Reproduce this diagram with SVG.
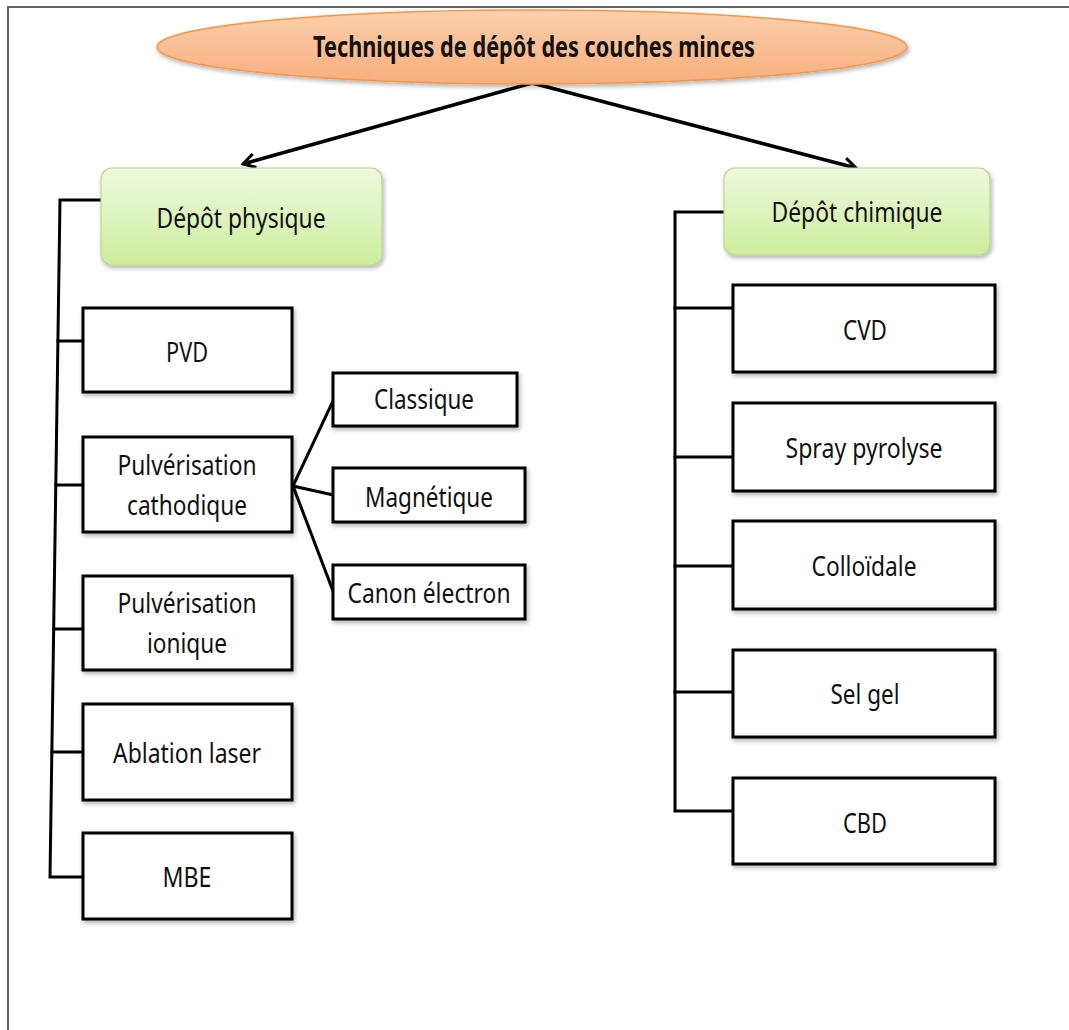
<svg xmlns="http://www.w3.org/2000/svg" width="1069" height="1030" viewBox="0 0 1069 1030">
<style>
.frame{fill:none;stroke:#555;stroke-width:1.8}
.box{fill:#fff;stroke:#000;stroke-width:3}
.green{fill:url(#gGreen);stroke:#b9d98a;stroke-width:1.2}
.lbl{font-family:"Noto Sans","Open Sans",sans-serif;font-size:27px;fill:#111;text-anchor:middle}
.title{font-family:"Noto Sans","Open Sans",sans-serif;font-size:29px;font-weight:bold;fill:#111;text-anchor:middle}
.conn{fill:none;stroke:#000;stroke-width:3;stroke-linecap:square}
.arr{fill:none;stroke:#000;stroke-width:3.5}
</style>
<defs>
<linearGradient id="gGreen" x1="0" y1="0" x2="0" y2="1">
<stop offset="0" stop-color="#eef9df"/>
<stop offset="1" stop-color="#cdee9c"/>
</linearGradient>
<linearGradient id="gOrange" x1="0" y1="0" x2="0" y2="1">
<stop offset="0" stop-color="#fbd0ad"/>
<stop offset="1" stop-color="#f7ae7c"/>
</linearGradient>
<filter id="sh" x="-10%" y="-10%" width="125%" height="130%">
<feDropShadow dx="1.5" dy="2.5" stdDeviation="2" flood-color="#000" flood-opacity="0.3"/>
</filter>
<marker id="ah" viewBox="0 0 16 16" refX="14" refY="8" markerWidth="16" markerHeight="16" markerUnits="userSpaceOnUse" orient="auto">
<path d="M2,1 L14,8 L2,15" fill="none" stroke="#000" stroke-width="3"/>
</marker>
</defs>
<rect class="frame" x="8" y="7" width="1080" height="1040"/>
<g id="connectors">
<line class="arr" x1="532" y1="83" x2="243" y2="164" marker-end="url(#ah)"/>
<line class="arr" x1="532" y1="83" x2="856" y2="168" marker-end="url(#ah)"/>
<polyline class="conn" points="101,200 60,200 50,877 83,877"/>
<line class="conn" x1="58" y1="341" x2="83" y2="341"/>
<line class="conn" x1="56" y1="485" x2="83" y2="485"/>
<line class="conn" x1="54" y1="629" x2="83" y2="629"/>
<line class="conn" x1="52" y1="752" x2="83" y2="752"/>
<polyline class="conn" points="724,212 675,212 675,811 733,811"/>
<line class="conn" x1="675" y1="308" x2="733" y2="308"/>
<line class="conn" x1="675" y1="457" x2="733" y2="457"/>
<line class="conn" x1="675" y1="566" x2="733" y2="566"/>
<line class="conn" x1="675" y1="692" x2="733" y2="692"/>
<line class="conn" x1="293" y1="486" x2="333" y2="401"/>
<line class="conn" x1="293" y1="486" x2="333" y2="495"/>
<line class="conn" x1="293" y1="486" x2="333" y2="591"/>
</g>
<g id="root">
<ellipse cx="532" cy="47" rx="375" ry="37" fill="url(#gOrange)" stroke="#f79646" stroke-width="1.5" filter="url(#sh)"/>
<text class="title" x="534" y="57" textLength="442" lengthAdjust="spacingAndGlyphs">Techniques de dépôt des couches minces</text>
</g>
<g id="physique">
<rect class="green" x="101" y="168" width="281" height="97" rx="11" filter="url(#sh)"/>
<text class="lbl" x="241" y="228" textLength="169" lengthAdjust="spacingAndGlyphs">Dépôt physique</text>
</g>
<g id="chimique">
<rect class="green" x="724" y="168" width="266" height="87" rx="11" filter="url(#sh)"/>
<text class="lbl" x="857" y="222" textLength="171" lengthAdjust="spacingAndGlyphs">Dépôt chimique</text>
</g>
<g id="pvd">
<rect class="box" x="83" y="308" width="209" height="84" filter="url(#sh)"/>
<text class="lbl" x="187" y="362" textLength="42" lengthAdjust="spacingAndGlyphs">PVD</text>
</g>
<g id="pulv-cath">
<rect class="box" x="83" y="437" width="209" height="95" filter="url(#sh)"/>
<text class="lbl" x="187" y="475" textLength="139" lengthAdjust="spacingAndGlyphs">Pulvérisation</text>
<text class="lbl" x="187" y="515" textLength="120" lengthAdjust="spacingAndGlyphs">cathodique</text>
</g>
<g id="pulv-ion">
<rect class="box" x="83" y="576" width="209" height="94" filter="url(#sh)"/>
<text class="lbl" x="187" y="613" textLength="139" lengthAdjust="spacingAndGlyphs">Pulvérisation</text>
<text class="lbl" x="187" y="653" textLength="80" lengthAdjust="spacingAndGlyphs">ionique</text>
</g>
<g id="ablation">
<rect class="box" x="83" y="704" width="209" height="96" filter="url(#sh)"/>
<text class="lbl" x="187" y="763" textLength="148" lengthAdjust="spacingAndGlyphs">Ablation laser</text>
</g>
<g id="mbe">
<rect class="box" x="83" y="833" width="209" height="86" filter="url(#sh)"/>
<text class="lbl" x="187" y="887" textLength="49" lengthAdjust="spacingAndGlyphs">MBE</text>
</g>
<g id="classique">
<rect class="box" x="333" y="373" width="184" height="53" filter="url(#sh)"/>
<text class="lbl" x="424" y="409" textLength="100" lengthAdjust="spacingAndGlyphs">Classique</text>
</g>
<g id="magnetique">
<rect class="box" x="333" y="468" width="192" height="54" filter="url(#sh)"/>
<text class="lbl" x="429" y="507" textLength="128" lengthAdjust="spacingAndGlyphs">Magnétique</text>
</g>
<g id="canon">
<rect class="box" x="333" y="565" width="192" height="54" filter="url(#sh)"/>
<text class="lbl" x="429" y="603" textLength="163" lengthAdjust="spacingAndGlyphs">Canon électron</text>
</g>
<g id="cvd">
<rect class="box" x="733" y="285" width="262" height="87" filter="url(#sh)"/>
<text class="lbl" x="865" y="340" textLength="44" lengthAdjust="spacingAndGlyphs">CVD</text>
</g>
<g id="spray">
<rect class="box" x="733" y="403" width="262" height="88" filter="url(#sh)"/>
<text class="lbl" x="864" y="458" textLength="157" lengthAdjust="spacingAndGlyphs">Spray pyrolyse</text>
</g>
<g id="colloidale">
<rect class="box" x="733" y="521" width="262" height="88" filter="url(#sh)"/>
<text class="lbl" x="864" y="576" textLength="105" lengthAdjust="spacingAndGlyphs">Colloïdale</text>
</g>
<g id="selgel">
<rect class="box" x="733" y="650" width="262" height="87" filter="url(#sh)"/>
<text class="lbl" x="865" y="704" textLength="69" lengthAdjust="spacingAndGlyphs">Sel gel</text>
</g>
<g id="cbd">
<rect class="box" x="733" y="778" width="262" height="86" filter="url(#sh)"/>
<text class="lbl" x="865" y="833" textLength="44" lengthAdjust="spacingAndGlyphs">CBD</text>
</g>
</svg>
